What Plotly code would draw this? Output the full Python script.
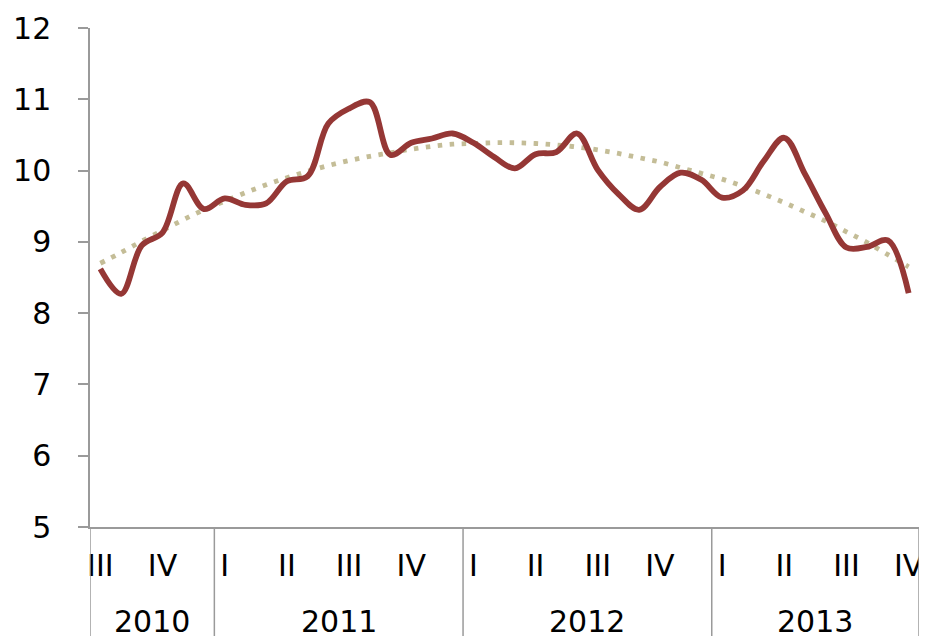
import pandas as pd
import plotly.graph_objects as go

# ---- data (monthly, July 2010 - October 2013) ----
start_month = "2010-07"
rate = [8.62, 8.27, 8.95, 9.13, 9.82, 9.46,
        9.61, 9.52, 9.54, 9.85, 9.92, 10.66, 10.87, 10.96, 10.22, 10.39, 10.45, 10.52,
        10.39, 10.19, 10.03, 10.23, 10.26, 10.52, 10.01, 9.67, 9.45, 9.77, 9.97, 9.87,
        9.62, 9.72, 10.13, 10.46, 9.95, 9.40, 8.92, 8.93, 9.02, 8.28]
trend = [8.70, 8.85, 9.01, 9.16, 9.31, 9.45, 9.57, 9.69, 9.80, 9.90, 9.99, 10.07,
         10.14, 10.20, 10.25, 10.30, 10.34, 10.37, 10.38, 10.39, 10.39, 10.38, 10.36,
         10.33, 10.29, 10.24, 10.18, 10.12, 10.04, 9.96, 9.88, 9.78, 9.67, 9.55, 9.42,
         9.29, 9.14, 8.99, 8.82, 8.65]
quarter_names = {1: "I", 4: "II", 7: "III", 10: "IV"}
y_ticks = [5, 6, 7, 8, 9, 10, 11, 12]

# ---- derived axis structure ----
dates = pd.date_range(start_month, periods=len(rate), freq="MS")
idx = list(range(len(rate)))
q_pos = [i for i, d in enumerate(dates) if d.month in quarter_names]
q_txt = [quarter_names[dates[i].month] for i in q_pos]
years = sorted(set(d.year for d in dates))
groups = []
for y in years:
    members = [i for i, d in enumerate(dates) if d.year == y]
    groups.append((str(y), members[0] - 0.5, members[-1] + 0.5))

RED = "#953735"
TAN = "#C4BD97"
AXC = "#9a9a9a"
FONT = "DejaVu Sans"
FS = 30

fig = go.Figure()
fig.add_trace(go.Scatter(x=idx, y=trend, mode="lines",
                         line=dict(color=TAN, width=4.8, dash="4.5px,7.5px", shape="spline"),
                         hoverinfo="skip", showlegend=False))
fig.add_trace(go.Scatter(x=idx, y=rate, mode="lines",
                         line=dict(color=RED, width=5.8, shape="spline", smoothing=1.0),
                         showlegend=False))

# year separators and labels
bounds = sorted(set([g[1] for g in groups] + [g[2] for g in groups]))
for b in bounds:
    fig.add_shape(type="line", xref="x", yref="paper", x0=b, x1=b, y0=0, y1=-0.25,
                  line=dict(color=AXC, width=1.5))
for name, a, b in groups:
    fig.add_annotation(x=(a + b) / 2, xref="x", y=0, yref="paper", yshift=-94,
                       text=name, showarrow=False, yanchor="middle",
                       font=dict(family=FONT, size=FS, color="black"))

fig.update_xaxes(range=[-0.5, len(rate) - 0.5], tickvals=q_pos, ticktext=q_txt,
                 showgrid=False, zeroline=False, showline=True, linecolor=AXC, linewidth=1.5,
                 ticks="", ticklabelstandoff=11, automargin=False,
                 tickfont=dict(family=FONT, size=FS, color="black"))
fig.update_yaxes(range=[5, 12], tickvals=y_ticks, showgrid=False, zeroline=False,
                 showline=True, linecolor=AXC, linewidth=1.5,
                 ticks="outside", ticklen=10, tickcolor=AXC, tickwidth=1.5,
                 ticklabelstandoff=21, automargin=False,
                 tickfont=dict(family=FONT, size=FS, color="black"))

# page body adds an 8px offset, so the figure is sized to fill the rest of the window
fig.update_layout(width=919, height=628, margin=dict(l=82, r=8, t=20, b=109, autoexpand=False),
                  plot_bgcolor="white", paper_bgcolor="white", showlegend=False)

fig.write_html("out.html")
